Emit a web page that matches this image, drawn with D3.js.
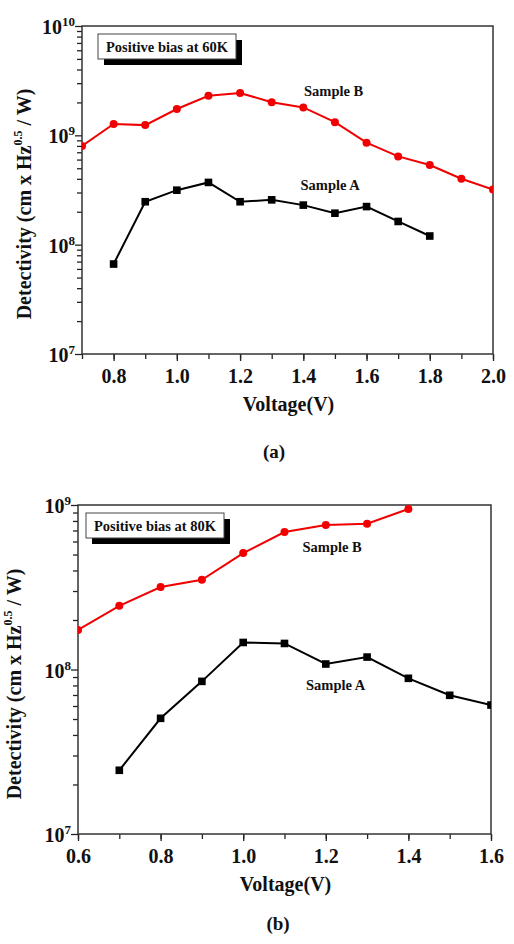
<!DOCTYPE html>
<html>
<head>
<meta charset="utf-8">
<script src="https://cdn.jsdelivr.net/npm/d3@7"></script>
<style>
  body { margin: 0; background: #fff; }
  svg { display: block; }
  text { font-family: "Liberation Serif", "Times New Roman", serif; font-weight: bold; fill: #111; }
</style>
</head>
<body>
<div id="chart"></div>
<script>
// panel (a): positive bias at 60K
var voltA60 = [0.8, 0.9, 1.0, 1.1, 1.2, 1.3, 1.4, 1.5, 1.6, 1.7, 1.8];
var detA60 = [6.65e7, 2.47e8, 3.15e8, 3.71e8, 2.47e8, 2.57e8, 2.30e8, 1.94e8, 2.23e8, 1.63e8, 1.20e8];
var voltB60 = [0.7, 0.8, 0.9, 1.0, 1.1, 1.2, 1.3, 1.4, 1.5, 1.6, 1.7, 1.8, 1.9, 2.0];
var detB60 = [7.98e8, 1.27e9, 1.24e9, 1.74e9, 2.30e9, 2.44e9, 2.01e9, 1.80e9, 1.32e9, 8.57e8, 6.42e8, 5.35e8, 4.01e8, 3.20e8];

// panel (b): positive bias at 80K
var voltA80 = [0.7, 0.8, 0.9, 1.0, 1.1, 1.2, 1.3, 1.4, 1.5, 1.6];
var detA80 = [2.44e7, 5.05e7, 8.47e7, 1.46e8, 1.44e8, 1.08e8, 1.19e8, 8.84e7, 6.97e7, 6.08e7];
var voltB80 = [0.6, 0.7, 0.8, 0.9, 1.0, 1.1, 1.2, 1.3, 1.4];
var detB80 = [1.74e8, 2.44e8, 3.17e8, 3.51e8, 5.10e8, 6.85e8, 7.56e8, 7.70e8, 9.45e8];

var xTicks60 = [0.8, 1.0, 1.2, 1.4, 1.6, 1.8, 2.0];
var xTicks80 = [0.6, 0.8, 1.0, 1.2, 1.4, 1.6];

var svg = d3.select("#chart").append("svg")
    .attr("width", 514)
    .attr("height", 944);

function zip(xs, ys) {
    return xs.map((x, i) => ({x: x, y: ys[i]}));
}

function drawPanel(opts) {
    var box = opts.box; // plot area
    var x = d3.scaleLinear().domain(opts.xDomain).range([box.left, box.right]);
    var y = d3.scaleLog().domain(opts.yDomain).range([box.bottom, box.top]);

    var g = svg.append("g");
    var clipId = "clip-" + opts.id;
    g.append("clipPath").attr("id", clipId)
        .append("rect")
        .attr("x", box.left).attr("y", box.top)
        .attr("width", box.right - box.left).attr("height", box.bottom - box.top);

    // x axis: minor every 0.1, labelled every 0.2
    var xMinor = d3.range(Math.round(opts.xDomain[0] * 10), Math.round(opts.xDomain[1] * 10) + 1).map(d => d / 10);
    var xAxis = g.append("g").attr("transform", `translate(0,${box.bottom})`)
        .call(d3.axisBottom(x).tickValues(xMinor).tickSize(5).tickFormat(""));
    xAxis.select(".domain").remove();
    xAxis.selectAll("line").attr("stroke", "#222").attr("stroke-width", 1.3);

    var xMajor = g.append("g").attr("transform", `translate(0,${box.bottom})`)
        .call(d3.axisBottom(x).tickValues(opts.xTicks).tickSize(7).tickPadding(8).tickFormat(d3.format(".1f")));
    xMajor.select(".domain").remove();
    xMajor.selectAll("line").attr("stroke", "#222").attr("stroke-width", 1.3);
    xMajor.selectAll("text")
        .attr("font-size", 20)
        .attr("font-family", "Liberation Serif, serif")
        .attr("font-weight", "bold")
        .attr("fill", "#111");

    // y axis: log decades with minor ticks
    var yMinorVals = y.ticks().filter(v => Math.abs(Math.log10(v) - Math.round(Math.log10(v))) > 1e-6);
    var decades = y.ticks().filter(v => Math.abs(Math.log10(v) - Math.round(Math.log10(v))) < 1e-6);

    var yMinorAxis = g.append("g").attr("transform", `translate(${box.left},0)`)
        .call(d3.axisLeft(y).tickValues(yMinorVals).tickSize(5).tickFormat(""));
    yMinorAxis.select(".domain").remove();
    yMinorAxis.selectAll("line").attr("stroke", "#222").attr("stroke-width", 1.3);

    var yMajorAxis = g.append("g").attr("transform", `translate(${box.left},0)`)
        .call(d3.axisLeft(y).tickValues(decades).tickSize(7).tickFormat(""));
    yMajorAxis.select(".domain").remove();
    yMajorAxis.selectAll("line").attr("stroke", "#222").attr("stroke-width", 1.3);

    var yLabels = g.append("g").selectAll("text")
        .data(decades)
        .enter().append("text")
        .attr("x", box.left - 7)
        .attr("y", d => y(d) + 8)
        .attr("text-anchor", "end")
        .attr("font-size", 20);
    yLabels.append("tspan").text("10");
    yLabels.append("tspan")
        .attr("font-size", 13)
        .attr("dy", -8)
        .text(d => Math.round(Math.log10(d)));

    // frame
    g.append("rect")
        .attr("x", box.left).attr("y", box.top)
        .attr("width", box.right - box.left).attr("height", box.bottom - box.top)
        .attr("fill", "none").attr("stroke", "#333").attr("stroke-width", 1.5);

    // series
    var line = d3.line().x(d => x(d.x)).y(d => y(d.y));
    var plot = g.append("g").attr("clip-path", `url(#${clipId})`);

    var dataB = zip(opts.voltB, opts.detB);
    var dataA = zip(opts.voltA, opts.detA);

    plot.append("path").datum(dataB)
        .attr("d", line).attr("fill", "none")
        .attr("stroke", "#f00000").attr("stroke-width", 2);
    plot.selectAll(".ptB").data(dataB).enter().append("circle")
        .attr("class", "ptB")
        .attr("cx", d => x(d.x)).attr("cy", d => y(d.y))
        .attr("r", 4).attr("fill", "#f00000");

    plot.append("path").datum(dataA)
        .attr("d", line).attr("fill", "none")
        .attr("stroke", "#000").attr("stroke-width", 2);
    plot.selectAll(".ptA").data(dataA).enter().append("rect")
        .attr("class", "ptA")
        .attr("x", d => x(d.x) - 3.8).attr("y", d => y(d.y) - 3.8)
        .attr("width", 7.6).attr("height", 7.6).attr("fill", "#000");

    // legend box with drop shadow
    var lb = opts.legendBox;
    g.append("rect")
        .attr("x", lb.x + 6).attr("y", lb.y + 6)
        .attr("width", lb.w).attr("height", lb.h)
        .attr("fill", "#000");
    g.append("rect")
        .attr("x", lb.x).attr("y", lb.y)
        .attr("width", lb.w).attr("height", lb.h)
        .attr("fill", "#fff").attr("stroke", "#444").attr("stroke-width", 1);
    g.append("text")
        .attr("x", lb.x + lb.w / 2).attr("y", lb.y + lb.h / 2 + 5)
        .attr("text-anchor", "middle")
        .attr("font-size", 14.5)
        .text(opts.legendText);

    // series labels
    opts.seriesLabels.forEach(s => {
        g.append("text")
            .attr("x", s.x).attr("y", s.y)
            .attr("font-size", 14.5)
            .text(s.text);
    });

    // axis titles
    g.append("text")
        .attr("x", (box.left + box.right) / 2 + 1)
        .attr("y", box.bottom + 57)
        .attr("text-anchor", "middle")
        .attr("font-size", 20)
        .text("Voltage(V)");

    var yt = g.append("text")
        .attr("transform", `translate(${opts.yTitleX},${opts.yTitleY}) rotate(-90)`)
        .attr("text-anchor", "middle")
        .attr("font-size", 20);
    yt.append("tspan").text("Detectivity (cm x Hz");
    yt.append("tspan").attr("font-size", 12).attr("dy", -9).text("0.5");
    yt.append("tspan").attr("dy", 9).text(" / W)");

    // panel caption
    g.append("text")
        .attr("x", opts.captionX)
        .attr("y", opts.captionY)
        .attr("text-anchor", "middle")
        .attr("font-size", 19)
        .text(opts.caption);
}

drawPanel({
    id: "a",
    box: {left: 82, right: 493, top: 26, bottom: 354},
    xDomain: [0.7, 2.0],
    yDomain: [1e7, 1e10],
    xTicks: xTicks60,
    voltA: voltA60, detA: detA60,
    voltB: voltB60, detB: detB60,
    legendBox: {x: 98, y: 34, w: 138, h: 25},
    legendText: "Positive bias at 60K",
    seriesLabels: [
        {text: "Sample B", x: 304, y: 96},
        {text: "Sample A", x: 300.5, y: 190}
    ],
    yTitleX: 31, yTitleY: 204,
    caption: "(a)", captionX: 274, captionY: 458
});

drawPanel({
    id: "b",
    box: {left: 78, right: 491, top: 505, bottom: 834},
    xDomain: [0.6, 1.6],
    yDomain: [1e7, 1e9],
    xTicks: xTicks80,
    voltA: voltA80, detA: detA80,
    voltB: voltB80, detB: detB80,
    legendBox: {x: 86, y: 513, w: 138, h: 25},
    legendText: "Positive bias at 80K",
    seriesLabels: [
        {text: "Sample B", x: 302.5, y: 552},
        {text: "Sample A", x: 306, y: 690}
    ],
    yTitleX: 21, yTitleY: 684,
    caption: "(b)", captionX: 278, captionY: 930
});
</script>
</body>
</html>
